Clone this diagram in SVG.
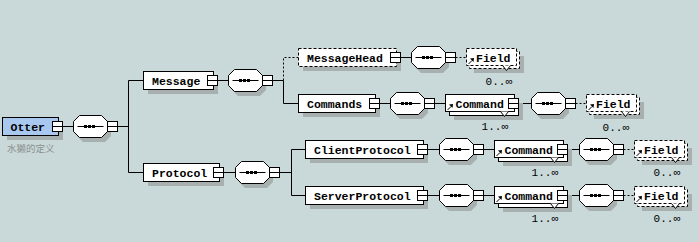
<svg xmlns="http://www.w3.org/2000/svg" width="699" height="242" viewBox="0 0 699 242">
<style>
.bg{fill:#c9d9d9}
.sh{fill:#a8afaf}
.bx{fill:#fff;stroke:#000;stroke-width:1}
.dsh{stroke-dasharray:3 2}
.ln{fill:none;stroke:#000;stroke-width:1}
.dl{fill:none;stroke:#000;stroke-width:1;stroke-dasharray:2 2}
.lbl{font-family:"Liberation Mono",monospace;font-weight:bold;font-size:11.5px;fill:#000}
.occ{font-family:"Liberation Mono",monospace;font-size:11px;fill:#000;text-anchor:end}
.doc{font-family:"Noto Sans CJK SC","Noto Sans",sans-serif;font-size:9.5px;fill:#8a9090}
</style>
<defs>
<g id="sq"><rect class="bx" x="0" y="-5" width="10" height="10"/><line class="ln" x1="0" y1="0" x2="10" y2="0"/></g>
<g id="seq">
<polygon class="sh" points="9.5,-6.5 31.5,-6.5 37.5,-0.5 37.5,9.5 31.5,15.5 9.5,15.5 3.5,9.5 3.5,-0.5"/>
<polygon class="bx" points="6,-11 28,-11 34,-5 34,5 28,11 6,11 0,5 0,-5"/>
<line class="ln" x1="4" y1="0" x2="30" y2="0"/>
<rect x="10.5" y="-1.5" width="3" height="3" fill="#000"/>
<rect x="14.5" y="-1.5" width="3" height="3" fill="#000"/>
<rect x="18.5" y="-1.5" width="3" height="3" fill="#000"/>
<use href="#sq" x="34" y="0"/>
</g>
<g id="lnk"><line class="ln" x1="2" y1="-1.5" x2="5.5" y2="-5"/><polygon points="7.5,-7.5 3.5,-7 7,-3.5" fill="#000"/></g>
</defs>
<rect class="bg" x="0" y="0" width="699" height="242"/>

<g id="connectors">
<path class="ln" d="M62.5 126.5H73.5M117.5 126.5H128.5M128.5 80.5V172.5M128.5 80.5H143.5M128.5 172.5H143.5"/>
<path class="ln" d="M217.5 80.5H228.5M272.5 80.5H283.5V103.5H298.5"/>
<path class="dl" d="M283.5 80.5V57.5H298.5"/>
<path class="ln" d="M400.5 57.5H411.5"/>
<path class="dl" d="M455.5 57.5H466.5"/>
<path class="ln" d="M379.5 103.5H390.5M434.5 103.5H445.5M518.5 103.5H531.5"/>
<path class="dl" d="M575.5 103.5H586.5"/>
<path class="ln" d="M223.5 172.5H235.5M279.5 172.5H291.5M291.5 149.5V195.5M291.5 149.5H305.5M291.5 195.5H305.5"/>
<path class="ln" d="M427.5 149.5H439.5M483.5 149.5H494.5M567.5 149.5H579.5"/>
<path class="dl" d="M623.5 149.5H634.5"/>
<path class="ln" d="M427.5 195.5H439.5M483.5 195.5H494.5M567.5 195.5H579.5"/>
<path class="dl" d="M623.5 195.5H634.5"/>
</g>

<g id="otter">
<rect class="sh" x="7" y="122" width="56" height="18"/>
<rect class="bx" x="2.5" y="117.5" width="56" height="18" style="fill:#a8c8f0"/>
<text class="lbl" x="10.5" y="130.5">Otter</text>
<use href="#sq" x="52.5" y="126.5"/>
<text class="doc" x="7" y="151.5">水獭的定义</text>
</g>
<g id="seq-otter"><use href="#seq" x="73.5" y="126.5"/></g>

<g id="message">
<rect class="sh" x="148" y="76" width="70" height="18"/>
<rect class="bx" x="143.5" y="71.5" width="70" height="18"/>
<text class="lbl" x="152" y="84.5">Message</text>
<use href="#sq" x="207.5" y="80.5"/>
</g>
<g id="seq-message"><use href="#seq" x="228.5" y="80.5"/></g>

<g id="messagehead">
<rect class="sh" x="303" y="53" width="98" height="18"/>
<rect class="bx dsh" x="298.5" y="48.5" width="98" height="18"/>
<text class="lbl" x="307" y="61.5">MessageHead</text>
<use href="#sq" x="390.5" y="57.5"/>
</g>
<g id="seq-messagehead"><use href="#seq" x="411.5" y="57.5"/></g>

<g id="field-1">
<rect class="sh" x="474" y="56" width="50" height="17"/>
<rect class="bx dsh" x="469.5" y="51.5" width="50" height="17"/>
<rect class="bx dsh" x="466.5" y="48.5" width="50" height="17"/>
<text class="lbl" x="476" y="61.5">Field</text>
<use href="#lnk" x="466.5" y="65.5"/>
<path class="bx" d="M502.5 65.5L506.5 70.5L510.5 65.5" style="stroke-dasharray:none"/>
<text class="occ" x="512" y="84.5">0..∞</text>
</g>

<g id="commands">
<rect class="sh" x="303" y="99" width="77" height="18"/>
<rect class="bx" x="298.5" y="94.5" width="77" height="18"/>
<text class="lbl" x="307" y="107.5">Commands</text>
<use href="#sq" x="369.5" y="103.5"/>
</g>
<g id="seq-commands"><use href="#seq" x="390.5" y="103.5"/></g>

<g id="command-1">
<rect class="sh" x="454" y="103" width="69" height="17"/>
<rect class="bx" x="449.5" y="98.5" width="69" height="17"/>
<rect class="bx" x="445.5" y="94.5" width="69" height="17"/>
<text class="lbl" x="455.5" y="107.5">Command</text>
<use href="#lnk" x="445.5" y="111.5"/>
<path class="bx" d="M500.5 111.5L504.5 116.5L508.5 111.5"/>
<use href="#sq" x="508.5" y="103.5"/>
<text class="occ" x="508" y="130">1..∞</text>
</g>
<g id="seq-command-1"><use href="#seq" x="531.5" y="103.5"/></g>

<g id="field-2">
<rect class="sh" x="594" y="102" width="50" height="17"/>
<rect class="bx dsh" x="589.5" y="97.5" width="50" height="17"/>
<rect class="bx dsh" x="586.5" y="94.5" width="50" height="17"/>
<text class="lbl" x="596" y="107.5">Field</text>
<use href="#lnk" x="586.5" y="111.5"/>
<path class="bx" d="M621.5 111.5L625.5 116.5L629.5 111.5"/>
<text class="occ" x="629" y="130.5">0..∞</text>
</g>

<g id="protocol">
<rect class="sh" x="148" y="168" width="76" height="18"/>
<rect class="bx" x="143.5" y="163.5" width="76" height="18"/>
<text class="lbl" x="152" y="176.5">Protocol</text>
<use href="#sq" x="213.5" y="172.5"/>
</g>
<g id="seq-protocol"><use href="#seq" x="235.5" y="172.5"/></g>

<g id="clientprotocol">
<rect class="sh" x="310" y="145" width="118" height="18"/>
<rect class="bx" x="305.5" y="140.5" width="118" height="18"/>
<text class="lbl" x="314" y="153.5">ClientProtocol</text>
<use href="#sq" x="417.5" y="149.5"/>
</g>
<g id="seq-clientprotocol"><use href="#seq" x="439.5" y="149.5"/></g>

<g id="command-2">
<rect class="sh" x="503" y="149" width="69" height="17"/>
<rect class="bx" x="498.5" y="144.5" width="69" height="17"/>
<rect class="bx" x="494.5" y="140.5" width="69" height="17"/>
<text class="lbl" x="504.5" y="153.5">Command</text>
<use href="#lnk" x="494.5" y="157.5"/>
<path class="bx" d="M550.5 157.5L554.5 162.5L558.5 157.5"/>
<use href="#sq" x="557.5" y="149.5"/>
<text class="occ" x="558" y="176">1..∞</text>
</g>
<g id="seq-command-2"><use href="#seq" x="579.5" y="149.5"/></g>

<g id="field-3">
<rect class="sh" x="642" y="148" width="50" height="17"/>
<rect class="bx dsh" x="637.5" y="143.5" width="50" height="17"/>
<rect class="bx dsh" x="634.5" y="140.5" width="50" height="17"/>
<text class="lbl" x="644" y="153.5">Field</text>
<use href="#lnk" x="634.5" y="157.5"/>
<path class="bx" d="M671.5 157.5L675.5 162.5L679.5 157.5"/>
<text class="occ" x="680" y="176">0..∞</text>
</g>

<g id="serverprotocol">
<rect class="sh" x="310" y="191" width="118" height="18"/>
<rect class="bx" x="305.5" y="186.5" width="118" height="18"/>
<text class="lbl" x="314" y="199.5">ServerProtocol</text>
<use href="#sq" x="417.5" y="195.5"/>
</g>
<g id="seq-serverprotocol"><use href="#seq" x="439.5" y="195.5"/></g>

<g id="command-3">
<rect class="sh" x="503" y="195" width="69" height="17"/>
<rect class="bx" x="498.5" y="190.5" width="69" height="17"/>
<rect class="bx" x="494.5" y="186.5" width="69" height="17"/>
<text class="lbl" x="504.5" y="199.5">Command</text>
<use href="#lnk" x="494.5" y="203.5"/>
<path class="bx" d="M550.5 203.5L554.5 208.5L558.5 203.5"/>
<use href="#sq" x="557.5" y="195.5"/>
<text class="occ" x="558" y="222">1..∞</text>
</g>
<g id="seq-command-3"><use href="#seq" x="579.5" y="195.5"/></g>

<g id="field-4">
<rect class="sh" x="642" y="194" width="50" height="17"/>
<rect class="bx dsh" x="637.5" y="189.5" width="50" height="17"/>
<rect class="bx dsh" x="634.5" y="186.5" width="50" height="17"/>
<text class="lbl" x="644" y="199.5">Field</text>
<use href="#lnk" x="634.5" y="203.5"/>
<path class="bx" d="M671.5 203.5L675.5 208.5L679.5 203.5"/>
<text class="occ" x="680" y="222">0..∞</text>
</g>
</svg>
